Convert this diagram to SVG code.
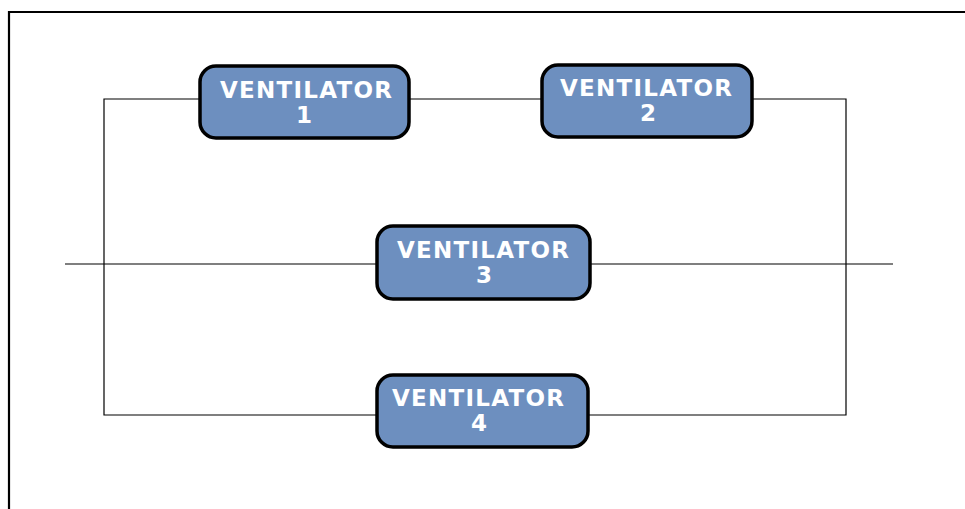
<svg xmlns="http://www.w3.org/2000/svg" width="965" height="509" viewBox="0 0 965 509">
<style>
.box{fill:#6d8fbf;stroke:#000;stroke-width:3.5}
.lbl{font-family:"DejaVu Sans",Verdana,sans-serif;font-weight:bold;font-size:23px;fill:#fff;text-anchor:middle}
.ln{fill:none;stroke:#000;stroke-width:1.2}
</style>
<rect x="0" y="0" width="965" height="509" fill="#fff"/>
<path d="M9,509 V12 H965" fill="none" stroke="#000" stroke-width="2.2"/>
<g id="connectors">
<path class="ln" d="M200,99 H104 V415 H377"/>
<path class="ln" d="M409,99 H542"/>
<path class="ln" d="M752,99 H846 V415 H588"/>
<path class="ln" d="M65,264 H377"/>
<path class="ln" d="M590,264 H893"/>
</g>
<g id="v1"><rect class="box" x="200" y="66" width="209" height="72" rx="16"/><text class="lbl" x="306" y="98" textLength="172" lengthAdjust="spacing">VENTILATOR</text><text class="lbl" x="304" y="123">1</text></g>
<g id="v2"><rect class="box" x="542" y="65" width="210" height="72" rx="16"/><text class="lbl" x="646" y="96" textLength="172" lengthAdjust="spacing">VENTILATOR</text><text class="lbl" x="648" y="121">2</text></g>
<g id="v3"><rect class="box" x="377" y="226" width="213" height="73" rx="16"/><text class="lbl" x="483" y="258" textLength="172" lengthAdjust="spacing">VENTILATOR</text><text class="lbl" x="484" y="283">3</text></g>
<g id="v4"><rect class="box" x="377" y="375" width="211" height="72" rx="16"/><text class="lbl" x="478" y="406" textLength="172" lengthAdjust="spacing">VENTILATOR</text><text class="lbl" x="479" y="431">4</text></g>
</svg>
